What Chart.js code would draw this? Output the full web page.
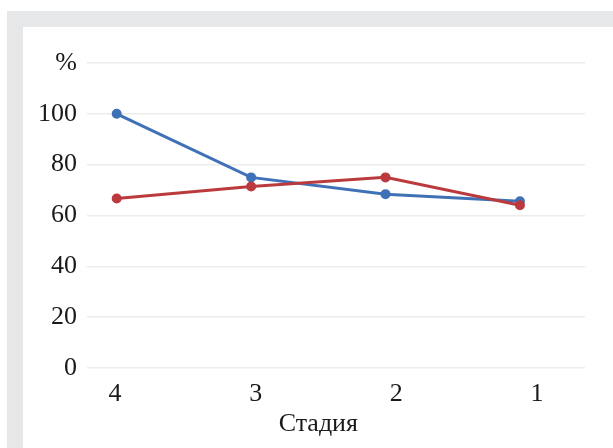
<!DOCTYPE html>
<html>
<head>
<meta charset="utf-8">
<script src="https://cdn.jsdelivr.net/npm/chart.js@4/dist/chart.umd.min.js"></script>
<style>
    html, body { margin: 0; padding: 0; background: #fff; overflow: hidden; }
    #frame { position: absolute; left: 7px; top: 11px; width: 640px; height: 460px; background: #e6e7e9; }
    #paper { position: absolute; left: 23px; top: 27px; width: 620px; height: 450px; background: #fff; }
    #wrap { position: absolute; left: 0; top: 0; width: 613px; height: 448px; }
</style>
</head>
<body>
<div id="frame"></div>
<div id="paper"></div>
<div id="wrap"><canvas id="grafico"></canvas></div>
<script>
// Dados
const estagios = ['4', '3', '2', '1'];
const serieAzul = [100, 75, 68.4, 65.6];
const serieVermelha = [66.7, 71.4, 75, 64];
const ticksY = [0, 20, 40, 60, 80, 100, 120];
const tituloX = 'Стадия';

const fonte = { family: '"Liberation Serif", "Times New Roman", serif', size: 26 };

// Título do eixo X centralizado entre o primeiro e o último estágio
const tituloPlugin = {
    id: 'tituloX',
    afterDraw(chart) {
        const x = chart.scales.x;
        const ctx = chart.ctx;
        ctx.save();
        ctx.font = fonte.size + 'px ' + fonte.family;
        ctx.fillStyle = '#1a1a1a';
        ctx.textAlign = 'center';
        ctx.textBaseline = 'middle';
        ctx.fillText(tituloX, x.getPixelForValue((estagios.length - 1) / 2), 424);
        ctx.restore();
    }
};

const pontos = arr => arr.map((v, i) => ({ x: i, y: v }));
const ticksEstagios = s => { s.ticks = estagios.map((_, i) => ({ value: i })); };

new Chart(document.getElementById('grafico'), {
    type: 'line',
    data: {
        datasets: [
            {
                data: pontos(serieAzul),
                borderColor: '#3f71b7',
                backgroundColor: '#3f71b7',
                borderWidth: 3,
                pointRadius: 3.5,
                order: 1
            },
            {
                data: pontos(serieVermelha),
                borderColor: '#bb3a3e',
                backgroundColor: '#bb3a3e',
                borderWidth: 3,
                pointRadius: 3.5,
                order: 0
            }
        ]
    },
    options: {
        responsive: true,
        maintainAspectRatio: false,
        animation: false,
        layout: { padding: { left: 0, right: 28, top: 63, bottom: 0 } },
        plugins: { legend: { display: false }, tooltip: { enabled: false } },
        scales: {
            // eixo dos dados (sem rótulos)
            x: {
                type: 'linear',
                display: false,
                min: -0.221,
                max: 3.484,
                afterBuildTicks: ticksEstagios
            },
            // eixo só para os rótulos dos estágios
            xRotulos: {
                type: 'linear',
                position: 'bottom',
                min: -0.199,
                max: 3.341,
                afterBuildTicks: ticksEstagios,
                afterFit: s => { s.height = 80; },
                grid: { display: false },
                border: { display: false },
                ticks: {
                    font: fonte,
                    color: '#1a1a1a',
                    padding: 3,
                    maxRotation: 0,
                    callback: v => estagios[v]
                }
            },
            y: {
                min: 0,
                max: 120,
                afterBuildTicks: s => { s.ticks = ticksY.map(v => ({ value: v })); },
                afterFit: s => { s.width = 87; },
                grid: { color: '#ececec', lineWidth: 1.5, drawTicks: false },
                border: { display: false },
                ticks: {
                    font: fonte,
                    color: '#1a1a1a',
                    padding: 10,
                    callback: v => v === 120 ? '%' : v
                }
            }
        }
    },
    plugins: [tituloPlugin]
});
</script>
</body>
</html>
